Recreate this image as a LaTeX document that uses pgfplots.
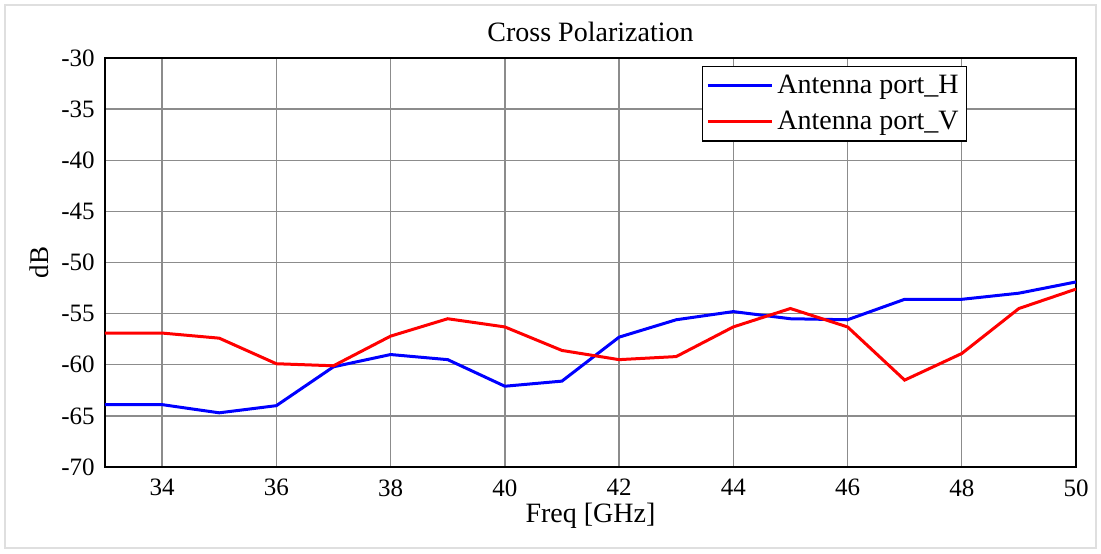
\documentclass[border=0pt]{standalone}
\usepackage{pgfplots}
\pgfplotsset{compat=1.18}
\usepackage{fontspec}
\setmainfont{Liberation Serif}

\begin{document}
\begin{tikzpicture}
\fontsize{12}{14}\selectfont
\begin{axis}[
    scale only axis,
    width=485.5pt, height=204.5pt,
    xmin=33, xmax=50, ymin=-70, ymax=-30,
    xtick={34,36,...,50},
    ytick={-70,-65,...,-30},
    grid=major,
    grid style={gray!90, line width=0.7pt},
    axis line style={black, line width=0.8pt},
    tick style={draw=none},
    /pgf/number format/assume math mode=true,
    ticklabel style={font=\fontsize{12.5}{14}\selectfont},
    xticklabel style={yshift=-2pt},
    yticklabel style={xshift=-1pt},
    title={Cross Polarization},
    title style={font=\fontsize{14}{16}\selectfont, yshift=-2pt},
    xlabel={Freq [GHz]},
    ylabel={dB},
    xlabel style={font=\fontsize{14}{16}\selectfont, yshift=5pt},
    ylabel style={font=\fontsize{13.5}{16}\selectfont, yshift=-2pt},
    legend style={at={(0.888,0.980)}, anchor=north east,
        draw=black, line width=0.6pt, font=\fontsize{14}{17}\selectfont,
        inner sep=2pt, row sep=3pt},
    legend cell align=left,
    legend image code/.code={\draw[#1, line width=1.5pt] (0pt,0pt) -- (32pt,0pt);},
]
\addplot[blue, line width=1.5pt] coordinates {
(33,-63.9) (34,-63.9) (35,-64.7) (36,-64.0) (37,-60.2) (38,-59.0)
(39,-59.5) (40,-62.1) (41,-61.6) (42,-57.3) (43,-55.6) (44,-54.8)
(45,-55.5) (46,-55.6) (47,-53.6) (48,-53.6) (49,-53.0) (50,-51.9)};
\addplot[red, line width=1.5pt] coordinates {
(33,-56.9) (34,-56.9) (35,-57.4) (36,-59.9) (37,-60.1) (38,-57.2)
(39,-55.5) (40,-56.3) (41,-58.6) (42,-59.5) (43,-59.2) (44,-56.3)
(45,-54.5) (46,-56.3) (47,-61.5) (48,-58.9) (49,-54.5) (50,-52.6)};
\legend{Antenna port\_H, Antenna port\_V}
\end{axis}
\draw[gray!25, line width=0.8pt]
  ([shift={(-50pt,-40.5pt)}]current axis.south west)
  rectangle ([shift={(10pt,26.5pt)}]current axis.north east);
\path ([shift={(-52.5pt,-43pt)}]current axis.south west)
  rectangle ([shift={(12.5pt,29pt)}]current axis.north east);
\end{tikzpicture}
\end{document}
